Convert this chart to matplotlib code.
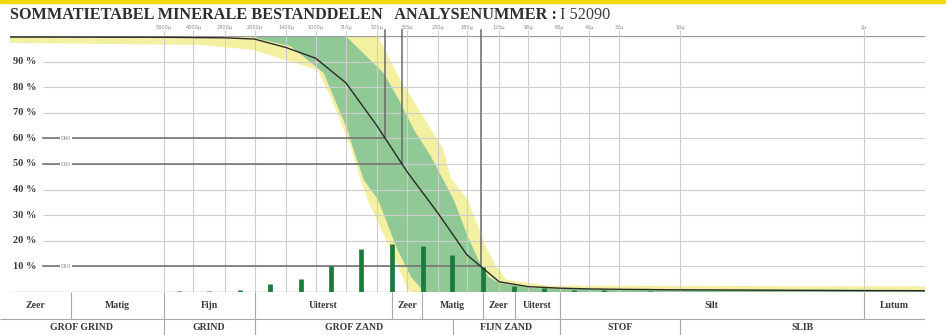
import numpy as np
import matplotlib
matplotlib.use("Agg")
import matplotlib.pyplot as plt
from matplotlib.ticker import NullLocator
from matplotlib.patches import Rectangle

# ---------------- data ----------------
sieve_sizes = [5600, 4000, 2800, 2000, 1400, 1000, 710, 500, 355, 250, 180, 125, 90, 63, 45, 32, 16, 2]
sieve_labels = ["5600µ", "4000µ", "2800µ", "2000µ", "1400µ", "1000µ", "710µ", "500µ", "355µ",
                "250µ", "180µ", "125µ", "90µ", "63µ", "45µ", "32µ", "16µ", "2µ"]

curve_sizes = [32000, 5600, 4000, 2800, 2000, 1400, 1000, 710, 500, 355, 250, 180, 125, 90, 63, 45, 32, 16, 2, 1]
curve_pass = [99.6, 99.5, 99.4, 99.3, 98.8, 95.5, 91.3, 81.7, 65.0, 47.0, 30.8, 14.5, 4.0, 2.1, 1.5, 1.2, 1.05, 0.85, 0.55, 0.5]

bar_upper = [5600, 4000, 2800, 2000, 1400, 1000, 710, 500, 355, 250, 180, 125, 90, 63, 45, 32]
bar_lower = [4000, 2800, 2000, 1400, 1000, 710, 500, 355, 250, 180, 125, 90, 63, 45, 32, 16]
bar_pct = [0.3, 0.3, 0.8, 3.1, 5.1, 10.2, 16.8, 18.8, 18.0, 14.5, 9.8, 2.3, 1.5, 0.8, 0.6, 0.5]

green_upper_sizes = [32000, 712, 463, 395, 328, 271, 209, 178, 158, 141, 125, 86, 39, 1]
green_upper_pct = [100, 100, 85.5, 76, 63.3, 53, 36, 21.5, 12.5, 5.9, 3.5, 1.6, 1.0, 0.8]
green_lower_sizes = [32000, 2100, 1931, 1330, 912, 697, 650, 579, 493, 395, 339, 293, 1]
green_lower_pct = [100, 100, 99, 96, 85.5, 63.3, 55.5, 43.8, 36, 16.4, 5.9, 0, 0]

yellow_upper_sizes = [32000, 493, 381, 314, 236, 216, 178, 148, 132, 115, 71, 1]
yellow_upper_pct = [100, 100, 82.4, 71.9, 56, 44.5, 36, 19.1, 11.3, 4.7, 2.5, 2.2]
yellow_lower_sizes = [32000, 3694, 2028, 978, 841, 673, 599, 555, 427, 351, 339, 1]
yellow_lower_pct = [97.3, 96.5, 94.5, 86.7, 76, 56.6, 43.8, 36, 16.4, 0.8, 0, 0]

y_levels = [10, 20, 30, 40, 50, 60, 70, 80, 90]
d_levels = [60, 50, 10]
d_labels = ["D60", "D50", "D10"]

row1_labels = ["Zeer", "Matig", "Fijn", "Uiterst", "Zeer", "Matig", "Zeer", "Uiterst", "Silt", "Lutum"]
row1_bounds = [16000, 5600, 2000, 420, 300, 150, 105, 63, 2]
row2_labels = ["GROF GRIND", "GRIND", "GROF ZAND", "FIJN ZAND", "STOF", "SLIB"]
row2_bounds = [5600, 2000, 210, 63, 16]

title_bold = "SOMMATIETABEL MINERALE BESTANDDELEN   ANALYSENUMMER :"
title_num = "I 52090"

# ---------------- layout ----------------
W, H = 946, 335
SERIF = ["Liberation Serif", "DejaVu Serif"]
fig = plt.figure(figsize=(W / 100, H / 100), dpi=100)
fig.patch.set_facecolor("white")

XL, XR = 32000, 1
ax = fig.add_axes([10 / W, 43 / H, 915 / W, 256 / H])
ax.set_xscale("log")
ax.set_xlim(XL, XR)
ax.set_ylim(0, 100)
for s in ax.spines.values():
    s.set_visible(False)
ax.set_yticks([])
ax.xaxis.set_minor_locator(NullLocator())
ax.set_xticks(sieve_sizes, labels=sieve_labels)
ax.xaxis.tick_top()
ax.tick_params(axis="x", length=0, pad=4, labelsize=3.6, labelcolor="#8a8a8a")


def x_at(frac):
    return 10 ** (np.log10(XL) + frac * (np.log10(XR) - np.log10(XL)))


grid_c = "#cdcdcd"
# bands
ax.fill(yellow_upper_sizes + yellow_lower_sizes[::-1], yellow_upper_pct + yellow_lower_pct[::-1],
        color="#f4f0a2", lw=0, zorder=1)
ax.fill(green_upper_sizes + green_lower_sizes[::-1], green_upper_pct + green_lower_pct[::-1],
        color="#90c995", lw=0, zorder=2)

# grid
gx0 = 33 / 915
ax.hlines(y_levels, gx0, 1, transform=ax.get_yaxis_transform(), color=grid_c, lw=0.8, zorder=3)
ax.hlines([0, 100], 0, 1, transform=ax.get_yaxis_transform(), color="#9a9a9a", lw=0.9, zorder=3)
ax.vlines(sieve_sizes, 0, 102.5, color=grid_c, lw=0.8, zorder=3, clip_on=False)

for v in y_levels:
    ax.text(0.003, v, f"{v} %", transform=ax.get_yaxis_transform(), ha="left", va="center",
            fontsize=7.5, fontweight="bold", family=SERIF, color="#3a3a3a", zorder=6)

# D lines
lsz = np.log10(curve_sizes)[::-1]
lps = np.array(curve_pass)[::-1]
for lev, lab in zip(d_levels, d_labels):
    xd = 10 ** np.interp(lev, lps, lsz)
    ax.plot([x_at(gx0), xd], [lev, lev], color="#6a6a6a", lw=1.1, zorder=4)
    ax.plot([xd, xd], [lev, 102.5], color="#6a6a6a", lw=1.1, zorder=4, clip_on=False)
    ax.text(x_at(56 / 915), lev, lab, ha="center", va="center", fontsize=4.2, color="#8a8a8a",
            family=SERIF, zorder=6,
            bbox=dict(boxstyle="square,pad=0.1", fc="white", ec="none"))

# bars
bar_pos = np.sqrt(np.array(bar_upper, float) * np.array(bar_lower, float))
ax.vlines(bar_pos, 0, bar_pct, color="#1d7a3e", lw=3.4, zorder=5)

# cumulative curve
ax.plot(curve_sizes, curve_pass, color="#2a2a2a", lw=1.0, zorder=6)

# ---------------- class table ----------------
tab = fig.add_axes([0, 0, 925 / W, 43 / H])
tab.set_xscale("log")
TL = 32000 * 2 ** (10 / 61)
tab.set_xlim(TL, XR)
tab.set_ylim(0, 43)
tab.axis("off")
tab.hlines([16], TL, XR, color="#a8a8a8", lw=0.8)
tab.vlines(row1_bounds, 16, 43, color="#a8a8a8", lw=0.8)
tab.vlines(row2_bounds, 0, 16, color="#a8a8a8", lw=0.8)

b1 = [TL] + row1_bounds + [XR]
for i, lab in enumerate(row1_labels):
    xm = np.sqrt(b1[i] * b1[i + 1])
    tab.text(xm, 29.5, lab, ha="center", va="center", fontsize=7, fontweight="bold",
             family=SERIF, color="#3a3a3a")
b2 = [TL] + row2_bounds + [XR]
for i, lab in enumerate(row2_labels):
    xm = np.sqrt(b2[i] * b2[i + 1])
    tab.text(xm, 7, lab, ha="center", va="center", fontsize=7, fontweight="bold",
             family=SERIF, color="#3a3a3a")

# ---------------- title ----------------
fig.text(10 / W, 1 - 15 / H, title_bold, ha="left", va="center", fontsize=11.7,
         fontweight="bold", family=SERIF, color="#2e2e2e")
fig.text(560 / W, 1 - 15 / H, title_num, ha="left", va="center", fontsize=11.7,
         family=SERIF, color="#3a3a3a")
fig.patches.append(Rectangle((0, 1 - 2.5 / H), 1, 2.5 / H, transform=fig.transFigure,
                             color="#f3d80c", zorder=10))

fig.savefig("out.png", dpi=100)
